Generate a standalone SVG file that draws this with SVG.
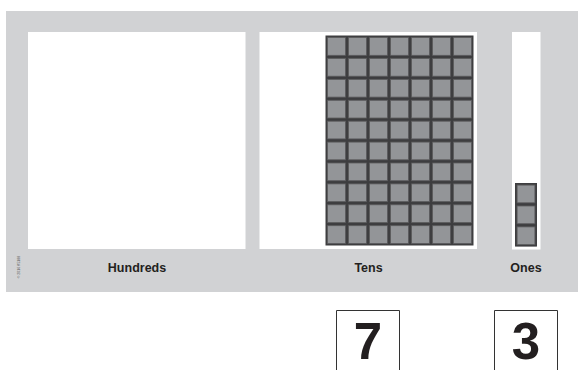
<svg xmlns="http://www.w3.org/2000/svg" width="578" height="370" viewBox="0 0 578 370">
<style>
.panel{fill:#d1d2d4}
.box{fill:#ffffff}
.cell{fill:#939598;stroke:#5c5c5e;stroke-width:0.8}
.gridbg{fill:#3e3e40}
.lbl{font-family:"Liberation Sans",Arial,sans-serif;font-weight:bold;font-size:12.5px;fill:#231f20;text-anchor:middle}
.card{fill:#ffffff;stroke:#333333;stroke-width:1}
.digit{font-family:"Liberation Sans",Arial,sans-serif;font-weight:bold;font-size:51px;fill:#231f20;text-anchor:middle}
.copy{font-family:"Liberation Sans",Arial,sans-serif;font-size:3.5px;fill:#555555;text-anchor:middle}
</style>
<defs>
<g id="cellTpl">
<rect class="gridbg" x="0" y="0" width="21" height="20.9"/>
<rect class="cell" x="1.6" y="1.6" width="17.8" height="17.7"/>
</g>
</defs>
<rect class="panel" x="6" y="11" width="572" height="281"/>
<g id="hundreds">
<rect class="box" x="28" y="32" width="217.5" height="217"/>
<text class="lbl" x="137" y="272">Hundreds</text>
</g>
<g id="tens">
<rect class="box" x="259.5" y="32" width="217.5" height="217"/>
<g id="tens-grid">
<rect class="gridbg" x="325.5" y="35.5" width="148" height="210"/>
<g transform="translate(326,36)">
<use href="#cellTpl" x="0" y="0"/><use href="#cellTpl" x="21" y="0"/><use href="#cellTpl" x="42" y="0"/><use href="#cellTpl" x="63" y="0"/><use href="#cellTpl" x="84" y="0"/><use href="#cellTpl" x="105" y="0"/><use href="#cellTpl" x="126" y="0"/>
<use href="#cellTpl" x="0" y="20.9"/><use href="#cellTpl" x="21" y="20.9"/><use href="#cellTpl" x="42" y="20.9"/><use href="#cellTpl" x="63" y="20.9"/><use href="#cellTpl" x="84" y="20.9"/><use href="#cellTpl" x="105" y="20.9"/><use href="#cellTpl" x="126" y="20.9"/>
<use href="#cellTpl" x="0" y="41.8"/><use href="#cellTpl" x="21" y="41.8"/><use href="#cellTpl" x="42" y="41.8"/><use href="#cellTpl" x="63" y="41.8"/><use href="#cellTpl" x="84" y="41.8"/><use href="#cellTpl" x="105" y="41.8"/><use href="#cellTpl" x="126" y="41.8"/>
<use href="#cellTpl" x="0" y="62.7"/><use href="#cellTpl" x="21" y="62.7"/><use href="#cellTpl" x="42" y="62.7"/><use href="#cellTpl" x="63" y="62.7"/><use href="#cellTpl" x="84" y="62.7"/><use href="#cellTpl" x="105" y="62.7"/><use href="#cellTpl" x="126" y="62.7"/>
<use href="#cellTpl" x="0" y="83.6"/><use href="#cellTpl" x="21" y="83.6"/><use href="#cellTpl" x="42" y="83.6"/><use href="#cellTpl" x="63" y="83.6"/><use href="#cellTpl" x="84" y="83.6"/><use href="#cellTpl" x="105" y="83.6"/><use href="#cellTpl" x="126" y="83.6"/>
<use href="#cellTpl" x="0" y="104.5"/><use href="#cellTpl" x="21" y="104.5"/><use href="#cellTpl" x="42" y="104.5"/><use href="#cellTpl" x="63" y="104.5"/><use href="#cellTpl" x="84" y="104.5"/><use href="#cellTpl" x="105" y="104.5"/><use href="#cellTpl" x="126" y="104.5"/>
<use href="#cellTpl" x="0" y="125.4"/><use href="#cellTpl" x="21" y="125.4"/><use href="#cellTpl" x="42" y="125.4"/><use href="#cellTpl" x="63" y="125.4"/><use href="#cellTpl" x="84" y="125.4"/><use href="#cellTpl" x="105" y="125.4"/><use href="#cellTpl" x="126" y="125.4"/>
<use href="#cellTpl" x="0" y="146.3"/><use href="#cellTpl" x="21" y="146.3"/><use href="#cellTpl" x="42" y="146.3"/><use href="#cellTpl" x="63" y="146.3"/><use href="#cellTpl" x="84" y="146.3"/><use href="#cellTpl" x="105" y="146.3"/><use href="#cellTpl" x="126" y="146.3"/>
<use href="#cellTpl" x="0" y="167.2"/><use href="#cellTpl" x="21" y="167.2"/><use href="#cellTpl" x="42" y="167.2"/><use href="#cellTpl" x="63" y="167.2"/><use href="#cellTpl" x="84" y="167.2"/><use href="#cellTpl" x="105" y="167.2"/><use href="#cellTpl" x="126" y="167.2"/>
<use href="#cellTpl" x="0" y="188.1"/><use href="#cellTpl" x="21" y="188.1"/><use href="#cellTpl" x="42" y="188.1"/><use href="#cellTpl" x="63" y="188.1"/><use href="#cellTpl" x="84" y="188.1"/><use href="#cellTpl" x="105" y="188.1"/><use href="#cellTpl" x="126" y="188.1"/>
</g>
</g>
<text class="lbl" x="368.5" y="272">Tens</text>
</g>
<g id="ones">
<rect class="box" x="512" y="32" width="28.5" height="217.5"/>
<rect class="gridbg" x="515" y="183" width="22" height="63.5"/>
<g transform="translate(515.5,183.5)">
<use href="#cellTpl" x="0" y="0"/><use href="#cellTpl" x="0" y="20.9"/><use href="#cellTpl" x="0" y="41.8"/>
</g>
<text class="lbl" x="526" y="272">Ones</text>
</g>
<g id="copyright">
<text class="copy" transform="translate(19.5,267) rotate(-90)">© 2016 K5188</text>
</g>
<g id="card-tens">
<path class="card" d="M336.5,370 V310.5 H399.5 V370"/>
<text class="digit" x="368" y="359">7</text>
</g>
<g id="card-ones">
<path class="card" d="M494.5,370 V310.5 H557.5 V370"/>
<text class="digit" x="526" y="359">3</text>
</g>
<g id="connectors"/>
</svg>
